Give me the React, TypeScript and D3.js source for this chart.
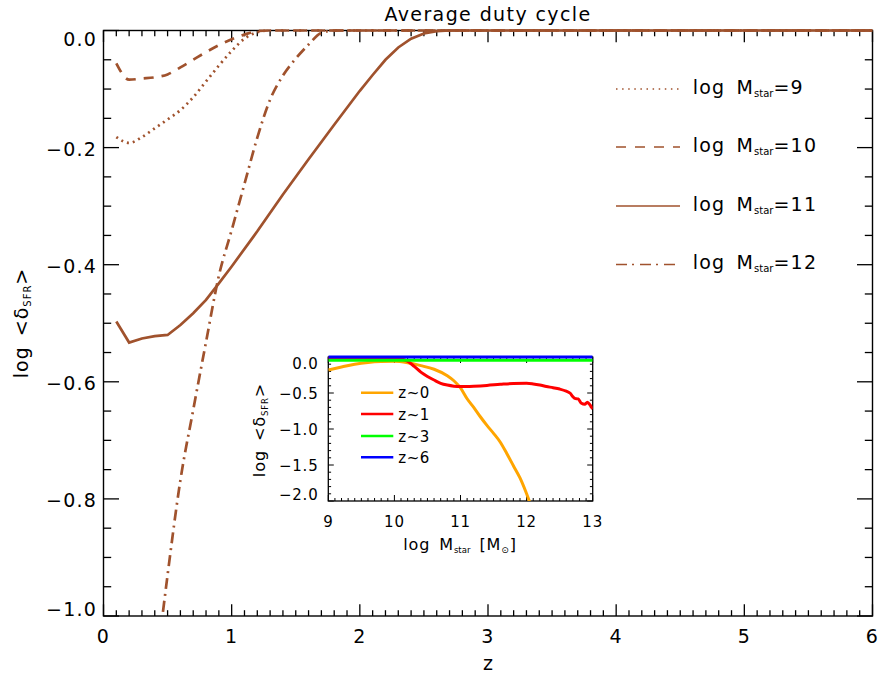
import React from 'react';
import * as d3 from 'd3';

const BROWN = '#A0522D';

// ---------- main panel data: log <delta_SFR> vs z ----------
const zM9 = [0.1, 0.2, 0.3, 0.4, 0.5, 0.6, 0.7, 0.8, 0.9, 1.0, 1.1, 1.2, 1.3, 2, 3, 4, 5, 6];
const deltaM9 = [-0.182, -0.192, -0.182, -0.167, -0.152, -0.136, -0.114, -0.087, -0.06, -0.035, -0.014, -0.003, 0, 0, 0, 0, 0, 0];

const zM10 = [0.1, 0.2, 0.3, 0.4, 0.5, 0.6, 0.7, 0.8, 0.9, 1.0, 1.1, 1.2, 1.3, 2, 3, 4, 5, 6];
const deltaM10 = [-0.056, -0.084, -0.082, -0.08, -0.075, -0.063, -0.05, -0.037, -0.025, -0.015, -0.007, -0.001, 0, 0, 0, 0, 0, 0];

const zM11 = [0.1, 0.2, 0.3, 0.4, 0.5, 0.6, 0.7, 0.8, 0.9, 1.0, 1.2, 1.4, 1.6, 1.8, 2.0, 2.1, 2.2, 2.3, 2.4, 2.5, 2.6, 2.7, 3, 4, 5, 6];
const deltaM11 = [-0.497, -0.533, -0.526, -0.522, -0.52, -0.503, -0.483, -0.46, -0.432, -0.403, -0.343, -0.28, -0.22, -0.161, -0.103, -0.076, -0.05, -0.029, -0.014, -0.005, -0.001, 0, 0, 0, 0, 0];

const zM12 = [0.4, 0.46, 0.5, 0.6, 0.7, 0.8, 0.9, 1.0, 1.1, 1.2, 1.3, 1.4, 1.5, 1.6, 1.7, 1.8, 2, 3, 4, 5, 6];
const deltaM12 = [-1.11, -1.0, -0.93, -0.768, -0.648, -0.532, -0.419, -0.341, -0.262, -0.183, -0.118, -0.077, -0.048, -0.024, -0.004, 0, 0, 0, 0, 0, 0];

const massLabels = ['9', '10', '11', '12'];
const mainXTicks = [0, 1, 2, 3, 4, 5, 6];
const mainXTickLabels = ['0', '1', '2', '3', '4', '5', '6'];
const mainYTicks = [0, -0.2, -0.4, -0.6, -0.8, -1.0];
const mainYTickLabels = ['0.0', '\u22120.2', '\u22120.4', '\u22120.6', '\u22120.8', '\u22121.0'];

// ---------- inset data: log <delta_SFR> vs log Mstar ----------
const massZ0 = [9.0, 9.2, 9.4, 9.6, 9.8, 10.0, 10.2, 10.4, 10.6, 10.8, 10.9, 11.0, 11.1, 11.2, 11.3, 11.4, 11.5, 11.6, 11.7, 11.8, 11.9, 12.0, 12.06];
const deltaZ0 = [-0.18, -0.14, -0.1, -0.075, -0.063, -0.06, -0.08, -0.12, -0.17, -0.26, -0.33, -0.43, -0.58, -0.7, -0.83, -0.95, -1.06, -1.18, -1.34, -1.51, -1.68, -1.9, -2.05];

const massZ1 = [9.0, 9.5, 10.0, 10.1, 10.2, 10.3, 10.4, 10.5, 10.6, 10.7, 10.8, 10.9, 11.0, 11.2, 11.4, 11.6, 11.8, 12.0, 12.1, 12.2, 12.3, 12.4, 12.5, 12.6, 12.66, 12.7, 12.73, 12.78, 12.83, 12.88, 12.92, 12.96, 13.0];
const deltaZ1 = [-0.01, -0.01, -0.01, -0.025, -0.06, -0.13, -0.21, -0.27, -0.32, -0.365, -0.39, -0.405, -0.41, -0.405, -0.395, -0.38, -0.368, -0.366, -0.375, -0.39, -0.41, -0.426, -0.445, -0.475, -0.504, -0.55, -0.574, -0.583, -0.643, -0.657, -0.629, -0.667, -0.722];

const massZ3 = [9.0, 13.0];
const deltaZ3 = [-0.045, -0.045];

const massZ6 = [9.0, 13.0];
const deltaZ6 = [0.0, 0.0];

const insetLegendLabels = ['z~0', 'z~1', 'z~3', 'z~6'];
const insetColors = ['#FFA500', '#FF0000', '#00FF00', '#0000FF'];
const insetXTicks = [9, 10, 11, 12, 13];
const insetXTickLabels = ['9', '10', '11', '12', '13'];
const insetYTicks = [0, -0.5, -1.0, -1.5, -2.0];
const insetYTickLabels = ['0.0', '\u22120.5', '\u22121.0', '\u22121.5', '\u22122.0'];

const FONT = 'DejaVu Sans, sans-serif';

export default function App() {
  // main panel geometry
  const L = 103.5, R = 872.5, T = 30.5, B = 616;
  const x = d3.scaleLinear().domain([0, 6]).range([L, R]);
  const y = d3.scaleLinear().domain([-1, 0]).range([B, T]);

  // inset geometry
  const iL = 328.3, iR = 592.7, iT = 357, iB = 501;
  const ix = d3.scaleLinear().domain([9, 13]).range([iL, iR]);
  const iy = d3.scaleLinear().domain([-2, 0]).range([iB, iT]);

  const pts = (xs: number[], ys: number[]) => xs.map((v, i) => [v, ys[i]] as [number, number]);

  const smooth = d3.line<[number, number]>().x(d => x(d[0])).y(d => y(d[1])).curve(d3.curveMonotoneX);
  const straight = d3.line<[number, number]>().x(d => x(d[0])).y(d => y(d[1]));
  const insetLine = d3.line<[number, number]>().x(d => ix(d[0])).y(d => iy(d[1])).curve(d3.curveMonotoneX);

  const mainSeries = [
    { d: smooth(pts(zM9, deltaM9)), dash: '2 4' },
    { d: smooth(pts(zM10, deltaM10)), dash: '10 8' },
    { d: straight(pts(zM11, deltaM11)), dash: undefined },
    { d: smooth(pts(zM12, deltaM12)), dash: '11 5 2 5' },
  ];
  const legendDash = ['1.5 4.6', '10 9', undefined, '11 5 2 6'];
  const legendY = [89, 147, 206, 264.5];

  const insetSeries = [
    insetLine(pts(massZ0, deltaZ0)),
    insetLine(pts(massZ1, deltaZ1)),
    insetLine(pts(massZ3, deltaZ3)),
    insetLine(pts(massZ6, deltaZ6)),
  ];
  const insetLegendY = [392.7, 414, 436, 457.3];

  const xMinor = d3.range(0, 6.0001, 0.1);
  const yMinor = d3.range(-1, 0.0001, 0.05);
  const ixMinor = d3.range(9, 13.0001, 0.1);
  const iyMinor = d3.range(-2, 0.0001, 0.1);

  const isMajor = (v: number, step: number) => Math.abs(v / step - Math.round(v / step)) < 1e-6;

  return (
    <svg width={881} height={681} style={{ position: 'absolute', left: 0, top: 0, background: '#fff' }} fontFamily={FONT}>
      <defs>
        <clipPath id="mainClip">
          <rect x={L} y={T - 4} width={R - L} height={B - T + 4} />
        </clipPath>
        <clipPath id="insetClip">
          <rect x={iL} y={iT - 3} width={iR - iL} height={iB - iT + 3} />
        </clipPath>
      </defs>
      <rect x={0} y={0} width={881} height={681} fill="#fff" />

      {/* main axes box */}
      <rect x={L} y={T} width={R - L} height={B - T} fill="none" stroke="#000" strokeWidth={1.4} />
      {xMinor.map((v, i) => {
        const len = isMajor(v, 1) ? 11.7 : 5.8;
        return (
          <g key={'xt' + i} stroke="#000" strokeWidth={1.3}>
            <line x1={x(v)} x2={x(v)} y1={B} y2={B - len} />
            <line x1={x(v)} x2={x(v)} y1={T} y2={T + len} />
          </g>
        );
      })}
      {yMinor.map((v, i) => {
        const len = isMajor(v, 0.2) ? 15.5 : 7.7;
        return (
          <g key={'yt' + i} stroke="#000" strokeWidth={1.3}>
            <line x1={L} x2={L + len} y1={y(v)} y2={y(v)} />
            <line x1={R} x2={R - len} y1={y(v)} y2={y(v)} />
          </g>
        );
      })}
      {mainXTicks.map((v, i) => (
        <text key={'xl' + i} x={x(v)} y={643} fontSize={19} textAnchor="middle" letterSpacing={1.2}>
          {mainXTickLabels[i]}
        </text>
      ))}
      {mainYTicks.map((v, i) => {
        const off = i === 0 ? 15.5 : i === mainYTicks.length - 1 ? 0.3 : 8.3;
        return (
          <text key={'yl' + i} x={97} y={y(v) + off} fontSize={19} textAnchor="end" letterSpacing={1.2}>
            {mainYTickLabels[i]}
          </text>
        );
      })}

      {/* titles */}
      <text x={(L + R) / 2} y={21} fontSize={19} textAnchor="middle" letterSpacing={1.4}>Average duty cycle</text>
      <text x={(L + R) / 2} y={670} fontSize={19} textAnchor="middle">z</text>
      <g transform="translate(28,323) rotate(-90)">
        <text x={0} y={0} fontSize={19} textAnchor="middle" letterSpacing={1} wordSpacing={3}>
          <tspan>log &lt;δ</tspan>
          <tspan fontSize={10} dy={3}>SFR</tspan>
          <tspan dy={-3}>&gt;</tspan>
        </text>
      </g>

      {/* main curves */}
      <g clipPath="url(#mainClip)" fill="none" stroke={BROWN} strokeWidth={2.7}>
        {mainSeries.map((s, i) => (
          <path key={'ms' + i} d={s.d || ''} strokeDasharray={s.dash} />
        ))}
      </g>

      {/* main legend */}
      {massLabels.map((m, i) => (
        <g key={'lg' + i}>
          <line x1={616} x2={680} y1={legendY[i]} y2={legendY[i]} stroke={BROWN} strokeWidth={1.3} strokeDasharray={legendDash[i]} />
          <text x={692.7} y={legendY[i] + 4.5} fontSize={19} letterSpacing={1.2} wordSpacing={4}>
            <tspan>log M</tspan>
            <tspan fontSize={10} dy={3} letterSpacing={0}>star</tspan>
            <tspan dy={-3}>={m}</tspan>
          </text>
        </g>
      ))}

      {/* inset */}
      <rect x={iL} y={iT} width={iR - iL} height={iB - iT} fill="none" stroke="#000" strokeWidth={1.3} />
      {ixMinor.map((v, i) => {
        const len = isMajor(v, 1) ? 6 : 3;
        return (
          <g key={'ixt' + i} stroke="#000" strokeWidth={1}>
            <line x1={ix(v)} x2={ix(v)} y1={iB} y2={iB - len} />
            <line x1={ix(v)} x2={ix(v)} y1={iT} y2={iT + len} />
          </g>
        );
      })}
      {iyMinor.map((v, i) => {
        const len = isMajor(v, 0.5) ? 5.5 : 2.8;
        return (
          <g key={'iyt' + i} stroke="#000" strokeWidth={1}>
            <line x1={iL} x2={iL + len} y1={iy(v)} y2={iy(v)} />
            <line x1={iR} x2={iR - len} y1={iy(v)} y2={iy(v)} />
          </g>
        );
      })}
      {insetXTicks.map((v, i) => (
        <text key={'ixl' + i} x={ix(v)} y={527} fontSize={15} textAnchor="middle" letterSpacing={0.8}>
          {insetXTickLabels[i]}
        </text>
      ))}
      {insetYTicks.map((v, i) => {
        const off = i === 0 ? 11.5 : i === insetYTicks.length - 1 ? -1 : 5.5;
        return (
          <text key={'iyl' + i} x={318.5} y={iy(v) + off} fontSize={15} textAnchor="end" letterSpacing={0.8}>
            {insetYTickLabels[i]}
          </text>
        );
      })}
      <text x={460} y={550} fontSize={16} textAnchor="middle" letterSpacing={0.9} wordSpacing={3}>
        <tspan>log M</tspan>
        <tspan fontSize={8.5} dy={2.5} letterSpacing={0}>star</tspan>
        <tspan dy={-2.5}> [M</tspan>
        <tspan fontSize={9} dy={2.5}>⊙</tspan>
        <tspan dy={-2.5}>]</tspan>
      </text>
      <g transform="translate(265,430) rotate(-90)">
        <text x={0} y={0} fontSize={16} textAnchor="middle" letterSpacing={0.9} wordSpacing={3}>
          <tspan>log &lt;δ</tspan>
          <tspan fontSize={8.5} dy={2.5}>SFR</tspan>
          <tspan dy={-2.5}>&gt;</tspan>
        </text>
      </g>
      <g clipPath="url(#insetClip)" fill="none" strokeWidth={3}>
        {insetSeries.map((d, i) => (
          <path key={'is' + i} d={d || ''} stroke={insetColors[i]} />
        ))}
      </g>
      {insetLegendLabels.map((lab, i) => (
        <g key={'ilg' + i}>
          <line x1={361} x2={393.3} y1={insetLegendY[i]} y2={insetLegendY[i]} stroke={insetColors[i]} strokeWidth={2.5} />
          <text x={398.3} y={insetLegendY[i] + 5.5} fontSize={15} letterSpacing={0.5}>{lab}</text>
        </g>
      ))}
    </svg>
  );
}
